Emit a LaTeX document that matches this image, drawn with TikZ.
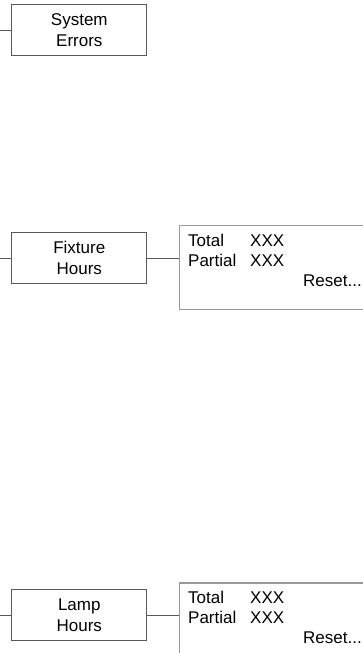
\documentclass[tikz,border=0pt]{standalone}
\usepackage{fontspec}
\setmainfont{Liberation Sans}
\tikzset{
  menubox/.style={draw=black!65,line width=1pt,minimum width=134.7pt,minimum height=51pt,align=center,inner sep=0pt,font=\fontsize{17}{20.7}\selectfont},
  databox/.style={draw=black!40,line width=1.4pt,minimum width=190pt,minimum height=83.5pt,anchor=north west,inner sep=0pt},
  datatext/.style={inner sep=0pt,font=\fontsize{17}{20}\selectfont},
  link/.style={draw=black!65,line width=1pt}
}
\begin{document}
\begin{tikzpicture}[x=1pt,y=-1pt]
                \useasboundingbox (0,0) rectangle (363,653);
                %% menu entries
                \node[menubox] (errors) at (79.3,30) {System\\Errors};
                \node[menubox] (fixture) at (79.3,258) {Fixture\\Hours};
                \node[menubox] (lamp) at (79.3,615) {Lamp\\Hours};
                %% incoming links
                \coordinate (inE) at (0,30);
                \coordinate (inF) at (0,258);
                \coordinate (inL) at (0,615);
                \draw[link] (inE) -- (errors.west);
                \draw[link] (inF) -- (fixture.west);
                \draw[link] (inL) -- (lamp.west);
                %% counter panels
                \node[databox] (fixdata) at (178.7,225) {};
                \node[databox] (lampdata) at (178.7,582.3) {};
                \draw[link] (fixture.east) -- (fixture.east -| fixdata.west);
                \draw[link] (lamp.east) -- (lamp.east -| lampdata.west);
                %% panel texts
                \node[datatext,anchor=base west,xshift=9.3pt,yshift=-21.7pt] (fixtotal) at (fixdata.north west) {Total};
                \node[datatext,anchor=base west,xshift=62pt] (fixtotalv) at (fixtotal.base west) {XXX};
                \node[datatext,anchor=base west,yshift=-20pt] (fixpart) at (fixtotal.base west) {Partial};
                \node[datatext,anchor=base west,yshift=-20pt] (fixpartv) at (fixtotalv.base west) {XXX};
                \node[datatext,anchor=base east] (fixreset) at (362,286.7) {Reset...};
                \node[datatext,anchor=base west,xshift=9.3pt,yshift=-21pt] (lamptotal) at (lampdata.north west) {Total};
                \node[datatext,anchor=base west,xshift=62pt] (lamptotalv) at (lamptotal.base west) {XXX};
                \node[datatext,anchor=base west,yshift=-20pt] (lamppart) at (lamptotal.base west) {Partial};
                \node[datatext,anchor=base west,yshift=-20pt] (lamppartv) at (lamptotalv.base west) {XXX};
                \node[datatext,anchor=base east] (lampreset) at (362,643.3) {Reset...};
            \end{tikzpicture}
\end{document}
